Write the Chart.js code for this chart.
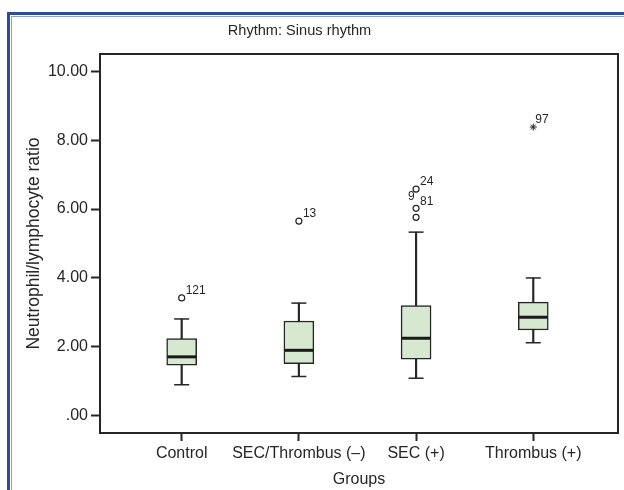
<!DOCTYPE html>
<html>
<head>
<meta charset="utf-8">
<script src="https://cdn.jsdelivr.net/npm/chart.js@4/dist/chart.umd.min.js"></script>
<style>
  html, body { margin: 0; padding: 0; background: #ffffff; }
  #wrap { width: 624px; height: 490px; position: relative; }
</style>
</head>
<body>
<div id="wrap"><canvas id="c" width="624" height="490"></canvas></div>
<script>
// ---- data ----
const chartTitle = 'Rhythm: Sinus rhythm';
const xTitle = 'Groups';
const yTitle = 'Neutrophil/lymphocyte ratio';
const categories = ['Control', 'SEC/Thrombus (\u2013)', 'SEC (+)', 'Thrombus (+)'];
const whiskerLow  = [0.90, 1.14, 1.09, 2.12];
const q1          = [1.47, 1.51, 1.64, 2.49];
const median      = [1.71, 1.90, 2.25, 2.86];
const q3          = [2.24, 2.75, 3.20, 3.30];
const whiskerHigh = [2.81, 3.27, 5.33, 4.00];
const outlierGroup = [0, 1, 2, 2, 2];
const outlierValue = [3.42, 5.65, 6.58, 6.02, 5.76];
const outlierId    = ['121', '13', '24', '81', '9'];
const extremeGroup = [3];
const extremeValue = [8.38];
const extremeId    = ['97'];
const yTickValues  = [0, 2, 4, 6, 8, 10];

// ---- styling ----
const FONT = '"Liberation Sans", Arial, Helvetica, sans-serif';
const INK = '#262626';
const BOX_FILL = '#d7e8d1';

const boxes = categories.map((c, i) => ({ x: i, y: [q1[i], q3[i]] }));
const whiskers = categories.map((c, i) => ({ x: i, y: [whiskerLow[i], whiskerHigh[i]] }));
const medians = categories.map((c, i) => ({ x: i, y: median[i] }));
const caps = categories.flatMap((c, i) => [{ x: i, y: whiskerLow[i] }, { x: i, y: whiskerHigh[i] }]);
const outliers = outlierValue.map((v, k) => ({ x: outlierGroup[k], y: v, id: outlierId[k] }));
const extremes = extremeValue.map((v, k) => ({ x: extremeGroup[k], y: v, id: extremeId[k] }));

const framePlugin = {
  id: 'frame',
  beforeDraw(chart) {
    const ctx = chart.ctx;
    ctx.save();
    ctx.fillStyle = '#ffffff';
    ctx.fillRect(0, 0, chart.width, chart.height);
    ctx.fillStyle = '#2e4c9c';
    ctx.fillRect(7, 12, 3, chart.height);
    ctx.fillRect(7, 12, chart.width, 3);
    ctx.fillStyle = '#8c9fcf';
    ctx.fillRect(11, 16, 1, chart.height);
    ctx.fillRect(11, 16, chart.width, 1);
    ctx.restore();
  },
  afterDraw(chart) {
    const ctx = chart.ctx;
    const a = chart.chartArea;
    ctx.save();
    ctx.strokeStyle = INK;
    ctx.lineWidth = 2;
    ctx.strokeRect(a.left, a.top, a.right - a.left, a.bottom - a.top);
    // title
    ctx.fillStyle = INK;
    ctx.font = '14.6px ' + FONT;
    ctx.textAlign = 'center';
    ctx.textBaseline = 'alphabetic';
    ctx.fillText(chartTitle, 299.5, 34.7);
    ctx.restore();
  }
};

const labelPlugin = {
  id: 'pointLabels',
  afterDatasetsDraw(chart) {
    const ctx = chart.ctx;
    const xs = chart.scales.x, ys = chart.scales.y;
    const special = { '9': { dx: -8, dy: -21 }, '97': { dx: 2, dy: -7 } };
    ctx.save();
    ctx.fillStyle = INK;
    ctx.font = '12px ' + FONT;
    ctx.textAlign = 'left';
    ctx.textBaseline = 'middle';
    [...outliers, ...extremes].forEach(p => {
      const px = xs.getPixelForValue(p.x);
      const py = ys.getPixelForValue(p.y);
      const off = special[p.id] || { dx: 4, dy: -7 };
      ctx.fillText(p.id, px + off.dx, py + off.dy);
    });
    ctx.restore();
  }
};

new Chart(document.getElementById('c'), {
  type: 'bar',
  data: {
    datasets: [
      { type: 'bar', data: whiskers, backgroundColor: INK, borderWidth: 0, barThickness: 1.5, grouped: false, order: 6 },
      { type: 'bar', data: boxes, backgroundColor: BOX_FILL, borderColor: INK, borderWidth: 1.5, borderSkipped: false, barThickness: 30, grouped: false, order: 5 },
      { type: 'scatter', data: caps, pointStyle: 'line', pointRadius: 7.5, borderColor: INK, pointBorderWidth: 1.5, backgroundColor: INK, order: 3 },
      { type: 'scatter', data: medians, pointStyle: 'line', pointRadius: 14.5, borderColor: '#1a1a1a', pointBorderWidth: 3, backgroundColor: '#1a1a1a', order: 2 },
      { type: 'scatter', data: outliers, pointStyle: 'circle', pointRadius: 3, borderColor: INK, pointBorderWidth: 1.2, backgroundColor: '#ffffff', order: 1 },
      { type: 'scatter', data: extremes, pointStyle: 'star', pointRadius: 3.5, borderColor: INK, pointBorderWidth: 1, backgroundColor: INK, order: 0 }
    ]
  },
  options: {
    responsive: false,
    animation: false,
    events: [],
    layout: { autoPadding: false, padding: { top: 54, right: 6, left: 0, bottom: 0 } },
    plugins: { legend: { display: false }, tooltip: { enabled: false }, title: { display: false } },
    scales: {
      x: {
        type: 'linear',
        offset: false,
        min: -0.697,
        max: 3.723,
        afterBuildTicks(scale) { scale.ticks = categories.map((c, i) => ({ value: i })); },
        afterFit(scale) { scale.height = 57; scale.paddingLeft = 0; scale.paddingRight = 0; },
        ticks: {
          callback: (v, i) => categories[i],
          color: INK,
          font: { family: FONT, size: 16 },
          padding: 3,
          maxRotation: 0,
          autoSkip: false
        },
        grid: { offset: false, drawOnChartArea: false, drawTicks: true, tickLength: 8, tickWidth: 2, tickColor: INK },
        border: { display: true, color: INK, width: 2 },
        title: { display: true, text: xTitle, color: INK, font: { family: FONT, size: 16 }, padding: { top: 0, bottom: 1 } }
      },
      y: {
        type: 'linear',
        min: -0.5,
        max: 10.5,
        afterBuildTicks(scale) { scale.ticks = yTickValues.map(v => ({ value: v })); },
        afterFit(scale) { scale.width = 100; scale.paddingTop = 0; scale.paddingBottom = 0; },
        ticks: {
          callback: v => (v === 0 ? '.00' : v.toFixed(2)),
          color: INK,
          font: { family: FONT, size: 16 },
          padding: 3
        },
        grid: { drawOnChartArea: false, drawTicks: true, tickLength: 9, tickWidth: 2, tickColor: INK },
        border: { display: true, color: INK, width: 2 },
        title: { display: true, text: yTitle, color: INK, font: { family: FONT, size: 17.5 }, padding: { top: 24, bottom: 0 } }
      }
    }
  },
  plugins: [framePlugin, labelPlugin]
});
</script>
</body>
</html>
